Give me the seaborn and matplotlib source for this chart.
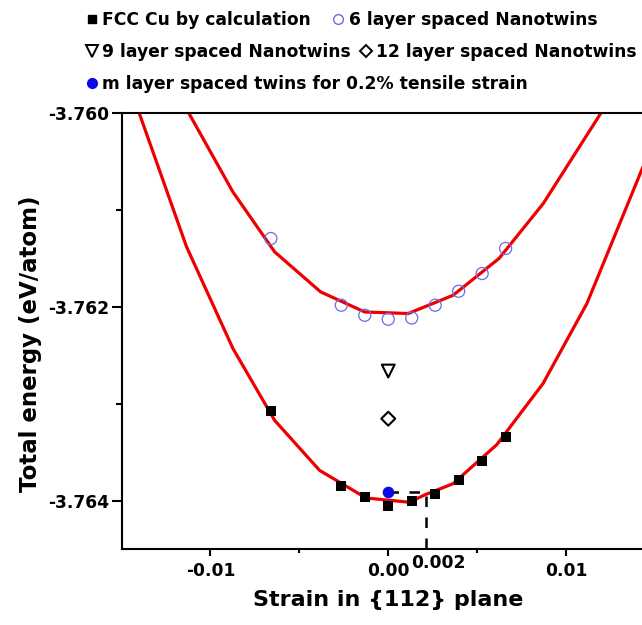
import numpy as np
import pandas as pd
import matplotlib
matplotlib.use("Agg")
import matplotlib.pyplot as plt
import matplotlib.transforms as mtransforms
from matplotlib.lines import Line2D
from matplotlib.ticker import MultipleLocator, FixedLocator
import seaborn as sns

# ---------------- data ----------------
fcc_strain = [-0.0066, -0.00264, -0.00132, 0.0, 0.00132, 0.00264, 0.00396, 0.00528, 0.0066]
fcc_energy = [-3.763079, -3.763854, -3.763965, -3.764051, -3.764006, -3.763930,
              -3.763792, -3.763596, -3.763344]

nt6_strain = [-0.0066, -0.00264, -0.00132, 0.0, 0.00132, 0.00264, 0.00396, 0.00528, 0.0066]
nt6_energy = [-3.761293, -3.761982, -3.762086, -3.762127, -3.762114, -3.761982,
              -3.761838, -3.761655, -3.761396]

nt9_strain = [0.0]
nt9_energy = [-3.762662]
nt12_strain = [0.0]
nt12_energy = [-3.763154]
m_strain = [0.0]
m_energy = [-3.763913]

fit_fcc_strain = [-0.0140, -0.01134, -0.00874, -0.00639, -0.00386, -0.00125, 0.00118,
                  0.0021, 0.00364, 0.0061, 0.0087, 0.01117, 0.0150]
fit_fcc_energy = [-3.76000, -3.761380, -3.762427, -3.763171, -3.763688, -3.763973,
                  -3.764017, -3.763937, -3.763826, -3.763423, -3.762792, -3.761965,
                  -3.760250]

fit_nt6_strain = [-0.01124, -0.00874, -0.00639, -0.0038, -0.00132, 0.00112, 0.00365,
                  0.00623, 0.00872, 0.01135, 0.0138]
fit_nt6_energy = [-3.759990, -3.760811, -3.761431, -3.761845, -3.762052, -3.762068,
                  -3.761879, -3.761499, -3.760931, -3.760173, -3.759466]

guide_strain = [0.0, 0.0021, 0.0021]
guide_energy = [-3.763913, -3.763913, -3.7645]

xtick_values = [-0.01, 0.0, 0.01]
xtick_labels = ["-0.01", "0.00", "0.01"]
ytick_values = [-3.764, -3.762, -3.760]
ytick_labels = ["-3.764", "-3.762", "-3.760"]
extra_label = "0.002"
extra_label_x = 0.00282

legend_labels = ["FCC Cu by calculation", "6 layer spaced Nanotwins",
                 "9 layer spaced Nanotwins", "12 layer spaced Nanotwins",
                 "m layer spaced twins for 0.2% tensile strain"]

# ---------------- style ----------------
sns.set_style("ticks")
plt.rcParams["font.family"] = ["DejaVu Sans"]
plt.rcParams["font.weight"] = "bold"
plt.rcParams["axes.labelweight"] = "bold"
plt.rcParams["text.color"] = "black"
plt.rcParams["axes.labelcolor"] = "black"
plt.rcParams["xtick.color"] = "black"
plt.rcParams["ytick.color"] = "black"
plt.rcParams["xtick.labelcolor"] = "black"
plt.rcParams["ytick.labelcolor"] = "black"

RED = "#ee0000"
CIRC = "#6b6be6"
BLUE = "#0a0ae6"

fig = plt.figure(figsize=(6.42, 6.25), dpi=100)
W, H = 642, 625
ax = fig.add_axes([121.5 / W, 1 - 549 / H, (655 - 121.5) / W, (549 - 113.3) / H])

df_fcc_fit = pd.DataFrame({"strain": fit_fcc_strain, "energy": fit_fcc_energy})
df_nt6_fit = pd.DataFrame({"strain": fit_nt6_strain, "energy": fit_nt6_energy})
sns.lineplot(data=df_fcc_fit, x="strain", y="energy", sort=False, estimator=None,
             color=RED, lw=2.3, ax=ax, zorder=2)
sns.lineplot(data=df_nt6_fit, x="strain", y="energy", sort=False, estimator=None,
             color=RED, lw=2.3, ax=ax, zorder=2)

ax.plot(guide_strain, guide_energy, color="black", lw=1.8, dashes=(4.2, 4.2),
        zorder=2.5, clip_on=False)

sns.scatterplot(x=fcc_strain, y=fcc_energy, marker="s", color="black", s=55,
                linewidth=0, ax=ax, zorder=3)
sns.scatterplot(x=nt6_strain, y=nt6_energy, marker="o", s=75, facecolor="none",
                edgecolor=CIRC, linewidth=0.9, ax=ax, zorder=3)
sns.scatterplot(x=nt9_strain, y=nt9_energy, marker="v", s=85, facecolor="none",
                edgecolor="black", linewidth=1.5, ax=ax, zorder=3)
sns.scatterplot(x=nt12_strain, y=nt12_energy, marker="D", s=50, facecolor="none",
                edgecolor="black", linewidth=1.5, ax=ax, zorder=3)
sns.scatterplot(x=m_strain, y=m_energy, marker="o", s=70, color=BLUE,
                linewidth=0, ax=ax, zorder=4)

ax.set_xlim(-0.015, 0.015)
ax.set_ylim(-3.7645, -3.760)

ax.xaxis.set_major_locator(FixedLocator(xtick_values))
ax.set_xticklabels(xtick_labels)
ax.xaxis.set_minor_locator(FixedLocator([-0.005, 0.005]))
ax.yaxis.set_major_locator(FixedLocator(ytick_values))
ax.set_yticklabels(ytick_labels)
ax.yaxis.set_minor_locator(MultipleLocator(0.001))

for sp in ax.spines.values():
    sp.set_linewidth(1.5)
    sp.set_color("black")

ax.tick_params(axis="x", which="major", direction="out", length=5, width=1.5,
               labelsize=12.3, pad=4, top=False, colors="black")
ax.tick_params(axis="x", which="minor", direction="out", length=3, width=1.5, top=False,
               colors="black")
ax.tick_params(axis="y", which="major", direction="out", length=7, width=1.5,
               labelsize=12.3, pad=2, right=False, colors="black")
ax.tick_params(axis="y", which="minor", direction="out", length=4, width=1.5, right=False,
               colors="black")

trans = mtransforms.blended_transform_factory(ax.transData, ax.transAxes)
ax.text(extra_label_x, -0.032, extra_label, transform=trans, ha="center", va="center",
        fontsize=12.3, fontweight="bold", color="black")

ax.set_xlabel("Strain in {112} plane", fontsize=16, color="black")
ax.set_ylabel("Total energy (eV/atom)", fontsize=16.5, color="black")
ax.xaxis.set_label_coords(0.5, -0.094)
ax.yaxis.set_label_coords(-0.149, 0.47)

# ---------------- legend rows ----------------
h_fcc = Line2D([], [], marker="s", color="black", ls="none", markersize=6)
h_nt6 = Line2D([], [], marker="o", mfc="none", mec=CIRC, ls="none", markersize=7, mew=1)
h_nt9 = Line2D([], [], marker="v", mfc="none", mec="black", ls="none", markersize=8, mew=1.4)
h_nt12 = Line2D([], [], marker="D", mfc="none", mec="black", ls="none", markersize=6, mew=1.4)
h_m = Line2D([], [], marker="o", color=BLUE, ls="none", markersize=7)

rows = [([h_fcc, h_nt6], legend_labels[0:2], 20, 1.3),
        ([h_nt9, h_nt12], legend_labels[2:4], 52, 0.55),
        ([h_m], legend_labels[4:5], 84, 0.5)]
for handles, labels, ypix, cs in rows:
    fig.legend(handles, labels, loc="center left", bbox_to_anchor=(87 / W, 1 - ypix / H),
               ncol=len(handles), frameon=False,
               prop=dict(weight="bold", size=12.3),
               labelcolor="black",
               handlelength=0.6, handletextpad=0.3, columnspacing=cs,
               borderpad=0, borderaxespad=0, handleheight=0.7)

fig.savefig("out.png", dpi=100)
